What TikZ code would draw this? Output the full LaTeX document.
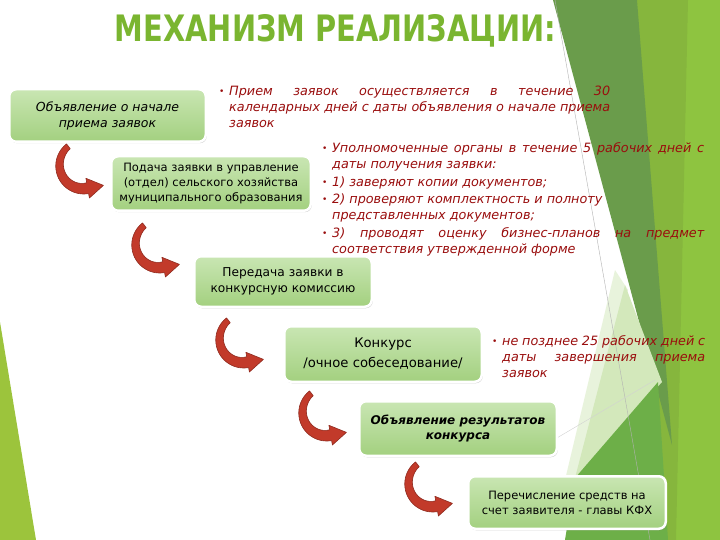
\documentclass[tikz,border=0pt]{standalone}
\usepackage{fontspec}
\setmainfont{DejaVu Sans}
\usetikzlibrary{shadows,calc}
\definecolor{boxtop}{HTML}{C9E6B3}
\definecolor{boxbot}{HTML}{A3D07F}
\definecolor{arrowred}{HTML}{C23A2A}
\definecolor{arrowdark}{HTML}{8E2A1E}
\definecolor{txtred}{HTML}{9A0E0E}
\definecolor{titlegreen}{HTML}{7AB530}
\definecolor{darkband}{HTML}{6A9C4B}
\definecolor{lime}{HTML}{8EC440}
\definecolor{limemid}{HTML}{86B63D}
\definecolor{medgreen}{HTML}{6DAF48}
\definecolor{palegreen}{HTML}{D3E8BB}
\definecolor{paler}{HTML}{E8F3DC}
\definecolor{leftlime}{HTML}{9CC43C}
\tikzset{
  stepbox/.style={rounded corners=7pt, draw=white, line width=2.5pt,
    top color=boxtop, bottom color=boxbot,
    drop shadow={shadow xshift=1pt, shadow yshift=-1.5pt, opacity=0.35},
    align=center, inner sep=0pt, text=black,
    font=\fontsize{11.5}{15}\selectfont},
  note/.style={anchor=north west, inner sep=0pt, text=txtred,
    font=\fontsize{12.8}{16}\selectfont\itshape, align=left},
}
\newcommand\bul{\makebox[10pt][l]{\fontsize{9}{9}\selectfont\raisebox{1pt}{•}}}
\newcommand\ind{\hspace*{10pt}}
\newcommand\curvarrow[1]{%
\begin{scope}[shift={(#1)}, yscale=-1]
\fill[arrowred, draw=arrowdark, line width=0.6pt, line join=round]
 plot[domain=128:280, samples=40] ({28*cos(\x)},{28*sin(\x)})
 -- (280:32.5) -- ($(280:22.5)+(10:16)$) -- (280:12.5) -- (280:17)
 -- plot[domain=280:128, samples=40] ({(22-5*(\x-128)/152)*cos(\x)},{(22-5*(\x-128)/152)*sin(\x)})
 -- cycle;
\end{scope}}
\begin{document}
\begin{tikzpicture}[x=1pt,y=-1pt]
\useasboundingbox (0,0) rectangle (720,540);
\fill[white] (0,0) rectangle (720,540);
% decorative background
\fill[leftlime] (0,322) -- (0,540) -- (36,540) -- cycle;
\fill[lime] (636,0) -- (720,0) -- (720,540) -- (590,540) -- (665,400) -- cycle;
\fill[limemid] (637,0) -- (688,0) -- (676,540) -- (665,540) -- cycle;
\fill[darkband] (553,0) -- (637,0) -- (672,445) -- cycle;
\fill[paler] (615,270) -- (565,480) -- (577,478) -- (628,290) -- cycle;
\fill[palegreen] (625,285) -- (575,478) -- (662,382) -- cycle;
\fill[medgreen] (575,478) -- (658,382) -- (668,540) -- (565,540) -- cycle;
\draw[gray!60, line width=0.4pt] (555,0) -- (650,540);
\draw[gray!35, line width=0.4pt] (545,445) -- (655,380);
% title
\node[font=\bfseries, text=titlegreen, anchor=base, inner sep=0pt] (title) at (335.5,42)
  {\resizebox{441pt}{27pt}{МЕХАНИЗМ РЕАЛИЗАЦИИ:}};
% boxes
\node[stepbox, minimum width=196.5pt, minimum height=52.5pt, font=\fontsize{12.5}{16}\selectfont\itshape] (b1) at (107.5,115.5)
  {Объявление о начале\\приема заявок};
\node[stepbox, minimum width=199.5pt, minimum height=54.5pt] (b2) at (211,183.5)
  {Подача заявки в управление\\(отдел) сельского хозяйства\\муниципального образования};
\node[stepbox, minimum width=177.5pt, minimum height=50.5pt, font=\fontsize{12.2}{16}\selectfont] (b3) at (283,281.5)
  {Передача заявки в\\конкурсную комиссию};
\node[stepbox, minimum width=197.5pt, minimum height=55.5pt, font=\fontsize{13.2}{16}\selectfont] (b4) at (383,354)
  {Конкурс\\[4pt]/очное собеседование/};
\node[stepbox, minimum width=197.5pt, minimum height=54.5pt, font=\fontsize{12}{15.5}\selectfont\bfseries\itshape] (b5) at (458,428.5)
  {Объявление результатов\\конкурса};
\node[stepbox, minimum width=197.5pt, minimum height=52.5pt] (b6) at (567,502.5)
  {Перечисление средств на\\счет заявителя - главы КФХ};
% curved arrows
\coordinate (a1) at ($(b2.west)+(-26.25,-17.5)$);
\coordinate (a2) at ($(b3.west)+(-33.25,-36.5)$);
\coordinate (a3) at ($(b4.west)+(-39.25,-14)$);
\coordinate (a4) at ($(b5.west)+(-31.25,-15.5)$);
\coordinate (a5) at ($(b6.west)+(-34.25,-18.5)$);
\curvarrow{a1}
\curvarrow{a2}
\curvarrow{a3}
\curvarrow{a4}
\curvarrow{a5}
% notes
\node[note] (n1) at (219,85.5) {%
\bul\makebox[381pt][s]{Прием заявок осуществляется в течение 30}\\
\ind\makebox[381pt][s]{календарных дней с даты объявления о начале приема}\\
\ind заявок};
\node[note] (n2) at (322,142.5) {%
\bul\makebox[372pt][s]{Уполномоченные органы в течение 5 рабочих дней с}\\
\ind даты получения заявки:\\[1.5pt]
\bul 1) заверяют копии документов;\\[1.5pt]
\bul 2) проверяют комплектность и полноту\\
\ind представленных документов;\\[1.5pt]
\bul\makebox[372pt][s]{3) проводят оценку бизнес-планов на предмет}\\
\ind соответствия утвержденной форме};
\node[note] (n3) at (492,335.5) {%
\bul\makebox[203pt][s]{не позднее 25 рабочих дней с}\\
\ind\makebox[203pt][s]{даты завершения приема}\\
\ind заявок};
\end{tikzpicture}
\end{document}
